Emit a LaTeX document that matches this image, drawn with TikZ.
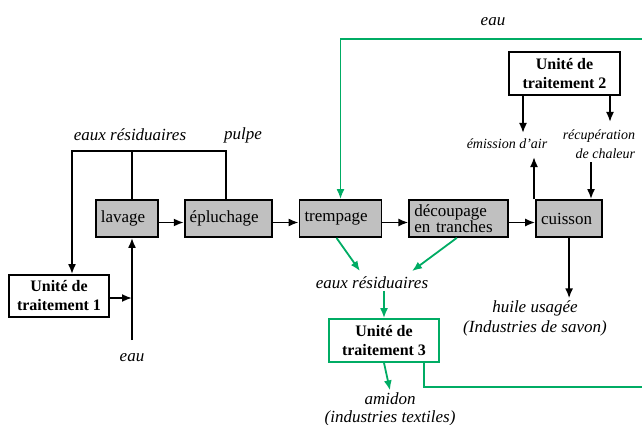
\documentclass[tikz,border=0pt]{standalone}
\usepackage{fontspec}
\setmainfont{Liberation Serif}
\usetikzlibrary{positioning,shapes,arrows.meta,calc}
\definecolor{vert}{RGB}{0,172,100}
\definecolor{grisbox}{RGB}{192,192,192}

\begin{document}
\begin{tikzpicture}[x=1pt,y=-1pt,>={Latex[length=10pt,width=8pt]},line width=1.8pt,
    node distance=26pt,
    etape/.style={draw, fill=grisbox, align=left, inner xsep=5pt, inner ysep=1pt,
        minimum height=37pt, font=\fontsize{17}{16}\selectfont},
    unite/.style={draw, fill=white, align=center, inner sep=2pt,
        font=\fontsize{16}{19}\selectfont\bfseries},
    lbl/.style={font=\fontsize{17}{20}\selectfont\itshape, align=center, inner sep=1pt},
    petit/.style={font=\fontsize{14}{19}\selectfont\itshape, inner sep=1pt}]
    \useasboundingbox (0,0) rectangle (642,425);

    % lavage -> epluchage -> trempage -> decoupage -> cuisson
    \node[etape, text width=52pt, anchor=west] (lavage) at (95,218.5) {lavage};
    \node[etape, text width=77pt, right=25pt of lavage] (eplu) {épluchage};
    \node[etape, text width=72pt, right=of eplu] (tremp) {trempage};
    \node[etape, text width=89pt, right=of tremp] (decoup) {découpage\\en tranches};
    \node[etape, text width=56pt, right=of decoup] (cuisson) {cuisson};

    \draw[->] ([yshift=-4pt]lavage.east) -- ([yshift=-4pt]eplu.west);
    \draw[->] ([yshift=-4pt]eplu.east) -- ([yshift=-4pt]tremp.west);
    \draw[->] ([yshift=-4pt]tremp.east) -- ([yshift=-4pt]decoup.west);
    \draw[->] ([yshift=-4pt]decoup.east) -- ([yshift=-4pt]cuisson.west);

    % unites de traitement
    \node[unite, minimum width=100pt, minimum height=42pt] (ut1) at (59,296) {Unité de\\traitement 1};
    \node[unite, minimum width=111pt, minimum height=43pt] (ut2) at (564.5,73.5) {Unité de\\traitement 2};
    \node[unite, draw=vert, minimum width=110pt, minimum height=43pt] (ut3) at (384,340.5) {Unité de\\traitement 3};

    % textes
    \node[lbl] (eaures1) at (130,135) {eaux résiduaires};
    \node[lbl] (pulpe) at (243,135) {pulpe};
    \node[lbl] (eau1) at (132,358) {eau};
    \node[lbl] (eau2) at (493,22) {eau};
    \node[petit] (emission) at (507,144) {émission d’air};
    \node[petit, align=right, anchor=east] (recup) at (637,144) {récupération\\de chaleur};
    \node[lbl] (eaures2) at (372,283) {eaux résiduaires};
    \node[lbl, font=\fontsize{17}{18}\selectfont\itshape] (amidon) at (390,409) {amidon\\(industries textiles)};
    \node[lbl] (huile) at (535,318) {huile usagée\\(Industries de savon)};

    % eaux residuaires et pulpe -> unite 1
    \coordinate (jl) at (132,151);
    \coordinate (jr) at (226,151);
    \coordinate (jg) at (72,151);
    \draw (lavage.north -| jl) -- (jl);
    \draw[->] (eplu.north -| jr) -- (jr) -- (jg) -- (jg |- ut1.north);

    % eau -> lavage
    \coordinate (eauin) at (132,340);
    \draw[->] (eauin) -- (eauin |- lavage.south);
    \draw[->] ([yshift=-2pt]ut1.east) -- ([yshift=-2pt]ut1.east -| eauin);

    % cuisson <-> unite 2
    \coordinate (fumee) at (534,157);
    \coordinate (ut2a) at (523,133);
    \coordinate (ut2b) at (610,122);
    \coordinate (chal) at (591,162);
    \draw[->] (fumee |- cuisson.north) -- (fumee);
    \draw[->] (ut2a |- ut2.south) -- (ut2a);
    \draw[->] (ut2b |- ut2.south) -- (ut2b);
    \draw[->] (chal) -- (chal |- cuisson.north);
    \draw[->] (cuisson.south) -- (cuisson.south |- huile.north);

    % circuit vert
    \coordinate (bordhaut) at (642,39);
    \coordinate (bordbas) at (642,387);
    \coordinate (c3) at (424,387);
    \draw[vert,->] (bordhaut) -| (tremp.north);
    \draw[vert,->] ($(tremp.south)+(-4,0)$) -- ($(eaures2.north)+(-12,-4)$);
    \draw[vert,->] ($(decoup.south)+(-2,0)$) -- ($(eaures2.north)+(40,-4)$);
    \draw[vert,->] (eaures2.south -| ut3.north) -- (ut3.north);
    \draw[vert,->] (ut3.south) -- (amidon.north);
    \draw[vert] (c3 |- ut3.south) -- (c3) -- (bordbas);
\end{tikzpicture}
\end{document}
